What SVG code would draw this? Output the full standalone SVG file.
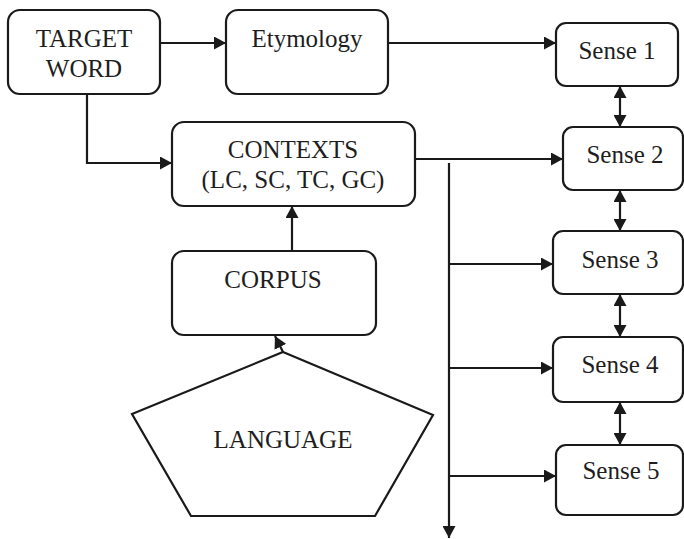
<svg xmlns="http://www.w3.org/2000/svg" width="684" height="539" viewBox="0 0 684 539">
  <style>
    .box { fill: #ffffff; stroke: #1a1a1a; stroke-width: 2.2; }
    .wire { fill: none; stroke: #1a1a1a; stroke-width: 2.2; }
    .arr { marker-end: url(#head); }
    .both { marker-start: url(#head); marker-end: url(#head); }
  </style>
  <defs>
    <marker id="head" markerUnits="userSpaceOnUse" markerWidth="13" markerHeight="13" refX="12" refY="6.5" orient="auto-start-reverse">
      <path d="M0,0 L12,6.5 L0,13 z" fill="#1a1a1a"/>
    </marker>
  </defs>

  <rect width="684" height="539" fill="#ffffff"/>

  <!-- connectors -->
  <g id="connectors">
    <line class="wire arr" x1="160" y1="43" x2="226" y2="43"/>
    <line class="wire arr" x1="388" y1="43" x2="556" y2="43"/>
    <path class="wire arr" d="M87,94 V163 H172"/>
    <line class="wire arr" x1="415" y1="159" x2="563" y2="159"/>
    <line class="wire arr" x1="449" y1="163" x2="449" y2="538"/>
    <line class="wire arr" x1="449" y1="264" x2="553" y2="264"/>
    <line class="wire arr" x1="449" y1="368" x2="553" y2="368"/>
    <line class="wire arr" x1="449" y1="476" x2="556" y2="476"/>
    <line class="wire arr" x1="292" y1="251" x2="292" y2="206"/>
    <line class="wire arr" x1="283" y1="352" x2="275" y2="336"/>
    <line class="wire both" x1="620" y1="86" x2="620" y2="127"/>
    <line class="wire both" x1="620" y1="190" x2="620" y2="231"/>
    <line class="wire both" x1="620" y1="294" x2="620" y2="337"/>
    <line class="wire both" x1="620" y1="402" x2="620" y2="445"/>
  </g>

  <!-- nodes -->
  <g font-family="'Liberation Serif', 'Times New Roman', Times, serif" font-size="25" fill="#1e1e1e" text-anchor="middle">
    <g id="target-word">
      <rect class="box" x="8" y="10" width="152" height="84" rx="12"/>
      <text x="84" y="47">TARGET</text>
      <text x="84" y="77">WORD</text>
    </g>
    <g id="etymology">
      <rect class="box" x="226" y="10" width="162" height="84" rx="12"/>
      <text x="307" y="47">Etymology</text>
    </g>
    <g id="contexts">
      <rect class="box" x="172" y="122" width="243" height="84" rx="12"/>
      <text x="293" y="158">CONTEXTS</text>
      <text x="293" y="188">(LC, SC, TC, GC)</text>
    </g>
    <g id="corpus">
      <rect class="box" x="172" y="251" width="204" height="84" rx="12"/>
      <text x="273" y="288">CORPUS</text>
    </g>
    <g id="language">
      <polygon class="box" points="283,352 433,415 375,516 191,516 132,414"/>
      <text x="283" y="448">LANGUAGE</text>
    </g>
    <g id="sense-1">
      <rect class="box" x="556" y="23" width="122" height="63" rx="10"/>
      <text x="617" y="59">Sense 1</text>
    </g>
    <g id="sense-2">
      <rect class="box" x="563" y="127" width="120" height="63" rx="10"/>
      <text x="625" y="163">Sense 2</text>
    </g>
    <g id="sense-3">
      <rect class="box" x="553" y="231" width="130" height="63" rx="10"/>
      <text x="620" y="268">Sense 3</text>
    </g>
    <g id="sense-4">
      <rect class="box" x="553" y="337" width="130" height="65" rx="10"/>
      <text x="620" y="373">Sense 4</text>
    </g>
    <g id="sense-5">
      <rect class="box" x="556" y="445" width="127" height="70" rx="10"/>
      <text x="621" y="479">Sense 5</text>
    </g>
  </g>
</svg>
